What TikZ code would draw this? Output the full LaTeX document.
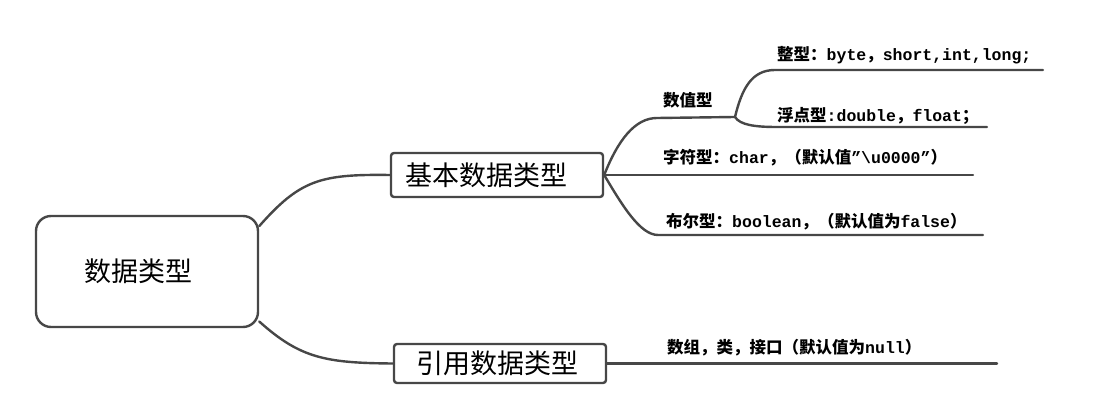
\documentclass[tikz,border=0pt]{standalone}
\usepackage{fontspec}
\setmainfont{Liberation Mono}
\newfontfamily\cjk{Noto Sans CJK SC}
\usetikzlibrary{positioning}
\newcommand{\zh}[1]{{\cjk #1}}

\begin{document}
\begin{tikzpicture}[
    x=1pt, y=-1pt,
    branch/.style={draw=black!72, line width=2.4pt, line cap=round},
    rootbox/.style={rectangle, draw=black!72, line width=2.4pt, fill=white, rounded corners=15pt, minimum width=222pt, minimum height=111pt, font=\cjk\fontsize{27}{30}\selectfont},
    typebox/.style={rectangle, draw=black!72, line width=2.4pt, fill=white, rounded corners=3pt, minimum width=212pt, font=\cjk\fontsize{27}{30}\selectfont},
    leaf/.style={anchor=west, inner sep=0pt, font=\bfseries\fontsize{16.5}{18}\selectfont}
]
    \useasboundingbox (0,0) rectangle (1098,411);

    % Boxes
    \node[rootbox] (root) at (147,271.5) {数据类型\hspace*{18pt}};
    \node[typebox, minimum height=44pt] (base) at (497,175) {基本数据类型\hspace*{22pt}};
    \node[typebox, minimum height=39pt] (refbox) at (500,363.5) {引用数据类型\hspace*{5pt}};

    % Leaf texts
    \node[leaf] (num) at (663,100) {\zh{数值型}};
    \node[leaf] (int) at (777,55) {\zh{整型：}byte\zh{，}short,int,long;};
    \node[leaf] (flt) at (777,116) {\zh{浮点型}:double\zh{，}float\zh{；}};
    \node[leaf] (chr) at (663,158) {\zh{字符型：}char\zh{，（默认值}”\textbackslash u0000”\zh{）}};
    \node[leaf] (bool) at (666,222) {\zh{布尔型：}boolean\zh{，（默认值为}false\zh{）}};
    \node[leaf] (ref) at (667,348) {\zh{数组，类，接口（默认值为}null\zh{）}};

    % Line ends
    \coordinate (numL) at (657,118);
    \coordinate (numR) at (735,117);
    \coordinate (intA) at (775,70);
    \coordinate (intE) at (1043,70);
    \coordinate (fltA) at (777,127);
    \coordinate (fltE) at (987,127);
    \coordinate (chrE) at (973,175);
    \coordinate (boolA) at (658,235);
    \coordinate (boolE) at (983,235);
    \coordinate (refE) at (997,363.5);

    % Branches
    \draw[branch] (root.22) .. controls (300,180) and (320,174) .. (base.west);
    \draw[branch] (root.-24) .. controls (300,358) and (325,363) .. (refbox.west);
    \draw[branch] (base.east) .. controls (618,140) and (635,118) .. (numL) -- (numR);
    \draw[branch] (numR) .. controls (742,88) and (752,70) .. (intA) -- (intE);
    \draw[branch] (numR) .. controls (740,125) and (755,127) .. (fltA) -- (fltE);
    \draw[branch] (base.east) -- (chrE);
    \draw[branch] (base.east) .. controls (622,205) and (640,235) .. (boolA) -- (boolE);
    \draw[branch] (refbox.east) -- (refE);
\end{tikzpicture}
\end{document}
